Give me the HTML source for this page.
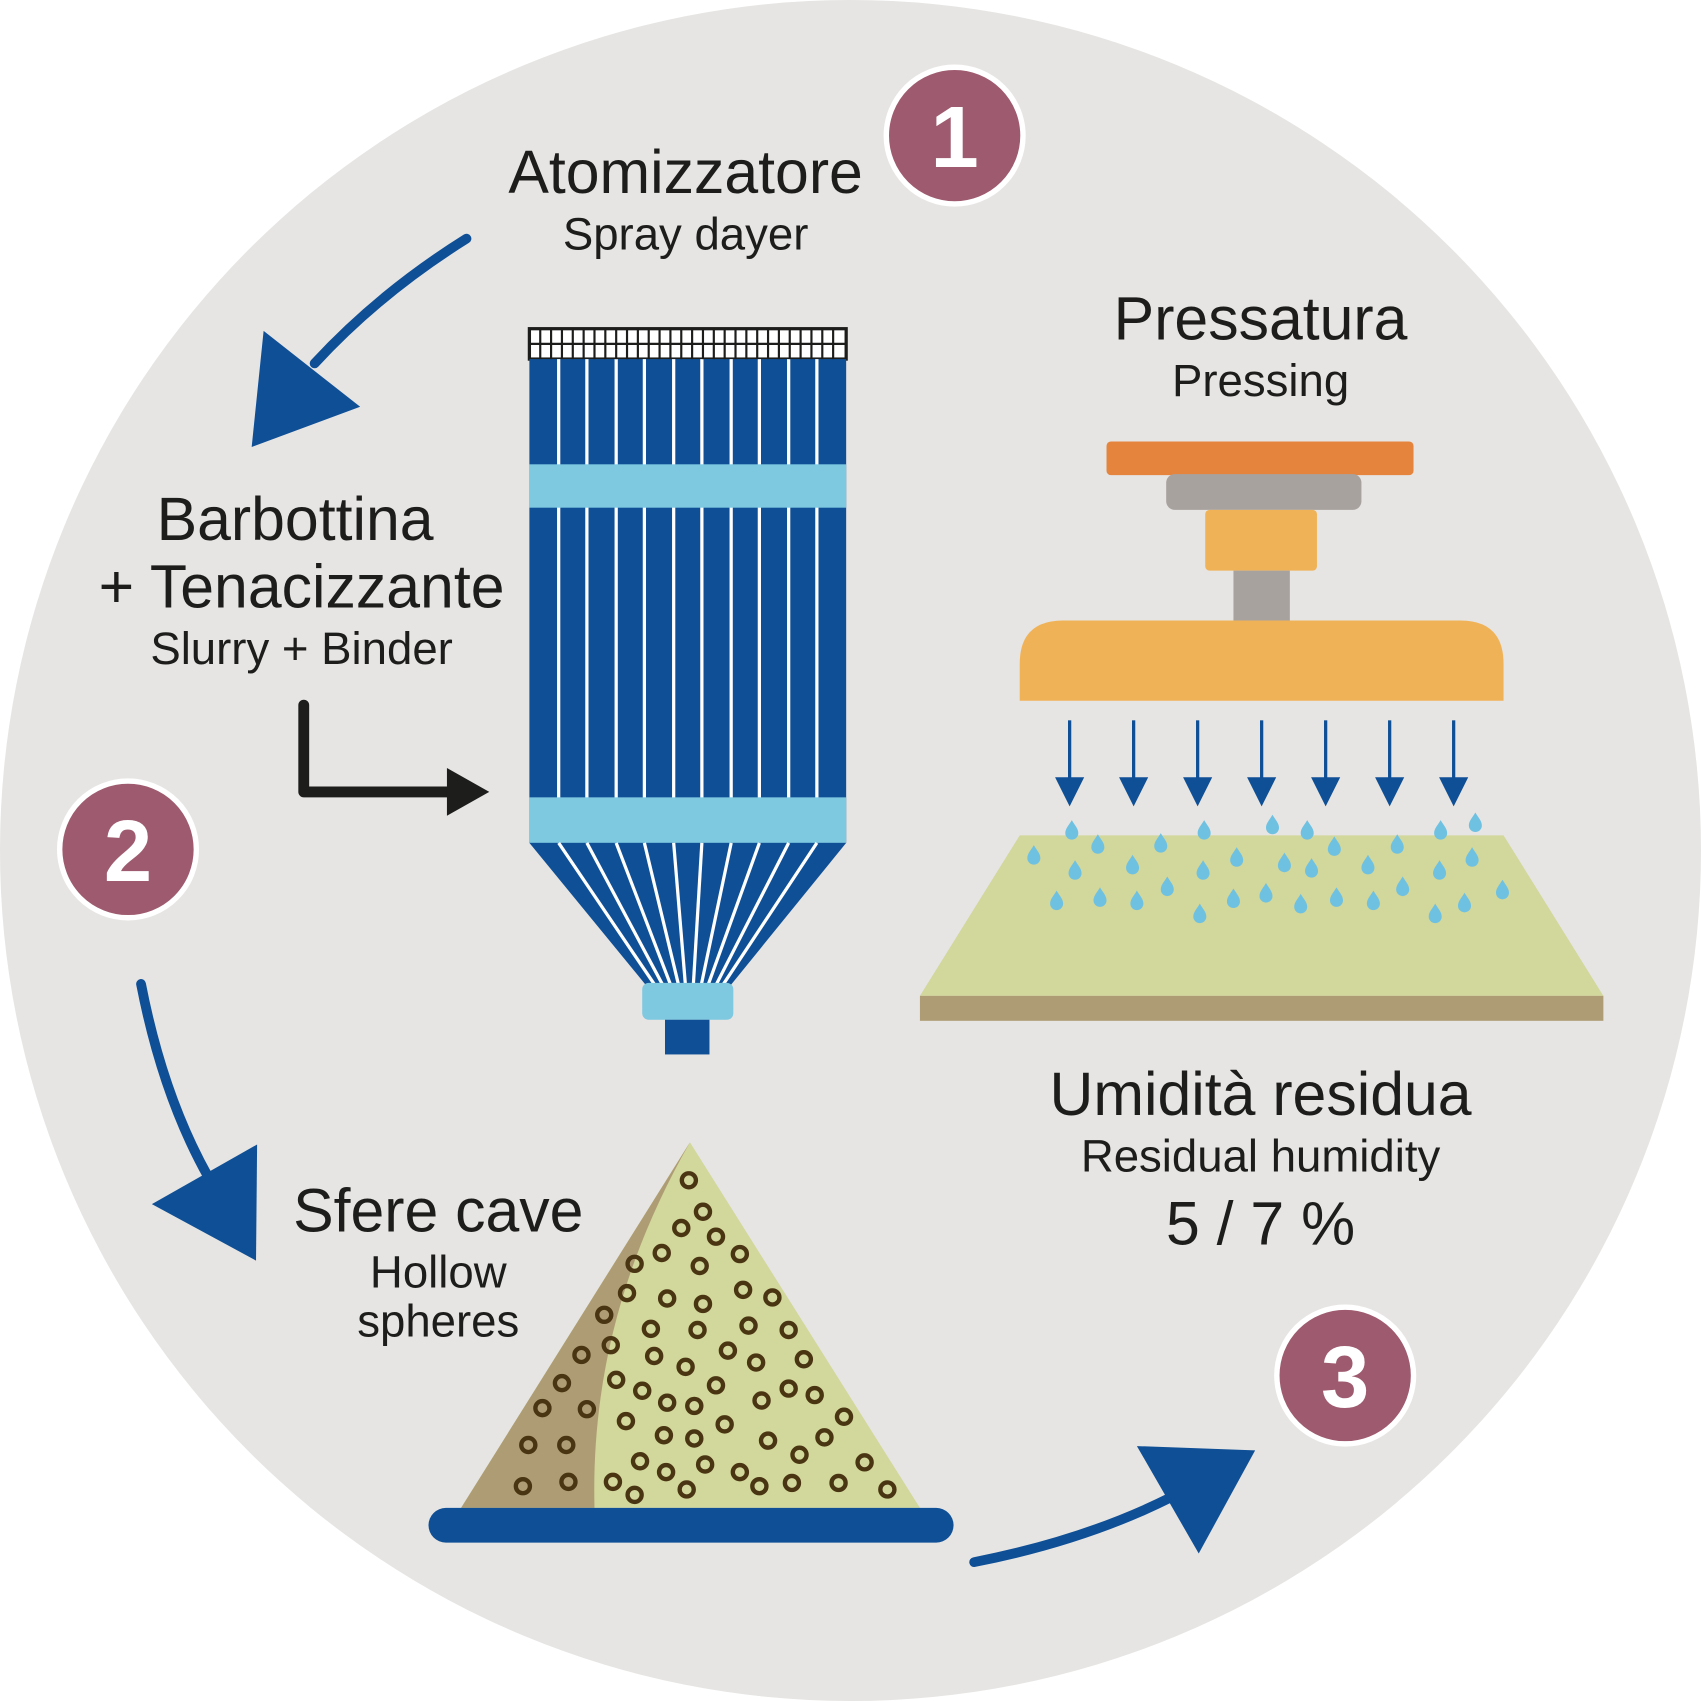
<!DOCTYPE html>
<html><head><meta charset="utf-8"><style>
html,body{margin:0;padding:0;background:#fff}
svg{display:block}
text{font-family:"Liberation Sans",sans-serif;fill:#1d1d1b;text-anchor:middle}
</style></head><body>
<svg width="1701" height="1701" viewBox="0 0 1568 1568" xmlns="http://www.w3.org/2000/svg">
<defs>
<path id="drop" d="M0,-9 C3,-4 6,-1 6,3 A6,6 0 0 1 -6,3 C-6,-1 -3,-4 0,-9Z" fill="#6fc1e2"/>
<circle id="ring" r="6.5" fill="none" stroke="#4a3513" stroke-width="4"/>
</defs>
<circle cx="784" cy="784" r="784" fill="#e6e5e3"/>

<!-- spray dryer -->
<rect x="488" y="303" width="292" height="28" fill="#fff" stroke="#1d1d1b" stroke-width="3"/>
<g stroke="#1d1d1b" stroke-width="2">
<line x1="488" y1="317" x2="780" y2="317"/>
</g>
<g stroke="#1d1d1b" stroke-width="2" id="grid"></g>
<rect x="488" y="331" width="292" height="446" fill="#0f4f96"/>
<g stroke="#fff" stroke-width="3">
<line x1="515" y1="331" x2="515" y2="777"/><line x1="541" y1="331" x2="541" y2="777"/>
<line x1="568" y1="331" x2="568" y2="777"/><line x1="594" y1="331" x2="594" y2="777"/>
<line x1="621" y1="331" x2="621" y2="777"/><line x1="647" y1="331" x2="647" y2="777"/>
<line x1="674" y1="331" x2="674" y2="777"/><line x1="700" y1="331" x2="700" y2="777"/>
<line x1="727" y1="331" x2="727" y2="777"/><line x1="753" y1="331" x2="753" y2="777"/>
</g>
<rect x="488" y="428" width="292" height="40" fill="#7ec8e0"/>
<rect x="488" y="735" width="292" height="42" fill="#7ec8e0"/>
<polygon points="488,777 780,777 672,910 597,910" fill="#0f4f96"/>
<g stroke="#fff" stroke-width="3">
<line x1="515" y1="777" x2="605" y2="910"/><line x1="541" y1="777" x2="612" y2="910"/>
<line x1="568" y1="777" x2="619" y2="910"/><line x1="594" y1="777" x2="626" y2="910"/>
<line x1="621" y1="777" x2="632" y2="910"/><line x1="647" y1="777" x2="639" y2="910"/>
<line x1="674" y1="777" x2="646" y2="910"/><line x1="700" y1="777" x2="652" y2="910"/>
<line x1="727" y1="777" x2="659" y2="910"/><line x1="753" y1="777" x2="665" y2="910"/>
</g>
<rect x="592" y="906" width="84" height="34" rx="6" fill="#7ec8e0"/>
<rect x="613" y="940" width="41" height="32" fill="#0f4f96"/>
<g fill="none" stroke="#1d1d1b" stroke-width="2">
<path d="M498,303V331M508,303V331M518,303V331M528,303V331M538,303V331M548,303V331M558,303V331M568,303V331M578,303V331M588,303V331M598,303V331M608,303V331M618,303V331M628,303V331M638,303V331M648,303V331M658,303V331M668,303V331M678,303V331M688,303V331M698,303V331M708,303V331M718,303V331M728,303V331M738,303V331M748,303V331M758,303V331M768,303V331"/>
</g>

<!-- press -->
<rect x="1020" y="407" width="283" height="31" rx="4" fill="#e5843d"/>
<rect x="1075" y="437" width="180" height="33" rx="8" fill="#a8a29f"/>
<rect x="1111" y="470" width="103" height="56" rx="4" fill="#f0b257"/>
<rect x="1137" y="526" width="52" height="48" fill="#a8a29f"/>
<path d="M940,646 V612 Q940,572 980,572 H1346 Q1386,572 1386,612 V646Z" fill="#f0b257"/>
<g stroke="#0f4f96" stroke-width="3" fill="#0f4f96">
<line x1="986" y1="664" x2="986" y2="722"/><polygon points="975,718 997,718 986,740"/>
<line x1="1045" y1="664" x2="1045" y2="722"/><polygon points="1034,718 1056,718 1045,740"/>
<line x1="1104" y1="664" x2="1104" y2="722"/><polygon points="1093,718 1115,718 1104,740"/>
<line x1="1163" y1="664" x2="1163" y2="722"/><polygon points="1152,718 1174,718 1163,740"/>
<line x1="1222" y1="664" x2="1222" y2="722"/><polygon points="1211,718 1233,718 1222,740"/>
<line x1="1281" y1="664" x2="1281" y2="722"/><polygon points="1270,718 1292,718 1281,740"/>
<line x1="1340" y1="664" x2="1340" y2="722"/><polygon points="1329,718 1351,718 1340,740"/>
</g>
<polygon points="940,770 1386,770 1478,918 848,918" fill="#d2d79b"/>
<rect x="848" y="918" width="630" height="23" fill="#ae9d74"/>
<g>
<use href="#drop" x="988" y="765"/><use href="#drop" x="1110" y="765"/><use href="#drop" x="1173" y="760"/><use href="#drop" x="1205" y="765"/><use href="#drop" x="1328" y="765"/><use href="#drop" x="1360" y="758"/>
<use href="#drop" x="953" y="788"/><use href="#drop" x="1012" y="778"/><use href="#drop" x="1070" y="777"/><use href="#drop" x="1140" y="790"/><use href="#drop" x="1230" y="780"/><use href="#drop" x="1288" y="778"/><use href="#drop" x="1357" y="790"/>
<use href="#drop" x="991" y="802"/><use href="#drop" x="1044" y="797"/><use href="#drop" x="1109" y="802"/><use href="#drop" x="1184" y="795"/><use href="#drop" x="1209" y="800"/><use href="#drop" x="1261" y="797"/><use href="#drop" x="1327" y="802"/>
<use href="#drop" x="974" y="830"/><use href="#drop" x="1014" y="827"/><use href="#drop" x="1048" y="830"/><use href="#drop" x="1076" y="817"/><use href="#drop" x="1137" y="828"/><use href="#drop" x="1167" y="823"/><use href="#drop" x="1199" y="833"/><use href="#drop" x="1232" y="827"/><use href="#drop" x="1266" y="830"/><use href="#drop" x="1293" y="817"/><use href="#drop" x="1350" y="832"/><use href="#drop" x="1385" y="820"/>
<use href="#drop" x="1106" y="842"/><use href="#drop" x="1323" y="842"/>
</g>

<!-- pile -->
<polygon points="636,1053 425,1390 848,1390" fill="#d2d79b"/>
<path d="M636,1053 L425,1390 H548 C545,1270 575,1160 636,1053Z" fill="#ae9d74"/>
<rect x="395" y="1390" width="484" height="32" rx="16" fill="#0f4f96"/>
<g>
<use href="#ring" x="635" y="1088"/><use href="#ring" x="648" y="1117"/><use href="#ring" x="628" y="1132"/><use href="#ring" x="660" y="1140"/><use href="#ring" x="610" y="1155"/><use href="#ring" x="682" y="1156"/><use href="#ring" x="585" y="1165"/><use href="#ring" x="645" y="1167"/>
<use href="#ring" x="578" y="1192"/><use href="#ring" x="615" y="1197"/><use href="#ring" x="648" y="1202"/><use href="#ring" x="685" y="1189"/><use href="#ring" x="712" y="1196"/><use href="#ring" x="557" y="1212"/><use href="#ring" x="600" y="1225"/><use href="#ring" x="643" y="1226"/><use href="#ring" x="690" y="1222"/><use href="#ring" x="727" y="1226"/>
<use href="#ring" x="536" y="1249"/><use href="#ring" x="563" y="1240"/><use href="#ring" x="603" y="1250"/><use href="#ring" x="632" y="1260"/><use href="#ring" x="671" y="1245"/><use href="#ring" x="697" y="1256"/><use href="#ring" x="741" y="1253"/>
<use href="#ring" x="518" y="1275"/><use href="#ring" x="568" y="1272"/><use href="#ring" x="592" y="1282"/><use href="#ring" x="615" y="1293"/><use href="#ring" x="640" y="1296"/><use href="#ring" x="660" y="1277"/><use href="#ring" x="702" y="1291"/><use href="#ring" x="727" y="1280"/><use href="#ring" x="751" y="1286"/>
<use href="#ring" x="500" y="1298"/><use href="#ring" x="541" y="1299"/><use href="#ring" x="577" y="1310"/><use href="#ring" x="668" y="1313"/><use href="#ring" x="612" y="1323"/><use href="#ring" x="640" y="1326"/><use href="#ring" x="708" y="1328"/><use href="#ring" x="760" y="1325"/><use href="#ring" x="778" y="1306"/>
<use href="#ring" x="487" y="1332"/><use href="#ring" x="522" y="1332"/><use href="#ring" x="590" y="1347"/><use href="#ring" x="650" y="1350"/><use href="#ring" x="682" y="1357"/><use href="#ring" x="737" y="1341"/><use href="#ring" x="797" y="1348"/><use href="#ring" x="614" y="1357"/>
<use href="#ring" x="482" y="1370"/><use href="#ring" x="524" y="1366"/><use href="#ring" x="565" y="1366"/><use href="#ring" x="585" y="1378"/><use href="#ring" x="633" y="1373"/><use href="#ring" x="700" y="1370"/><use href="#ring" x="730" y="1367"/><use href="#ring" x="773" y="1367"/><use href="#ring" x="818" y="1373"/>
</g>

<!-- arrows -->
<g fill="none" stroke="#0f4f96" stroke-width="9" stroke-linecap="round">
<path d="M430,220 Q350,270 290,335"/>
<path d="M130,907 Q150,1010 192,1085"/>
<path d="M898,1440 Q1000,1420 1080,1380"/>
</g>
<g fill="#0f4f96">
<polygon points="232,412 243,305 332,375"/>
<polygon points="140,1110 237,1055 236,1162"/>
<polygon points="1105,1432 1157,1337 1048,1333"/>
</g>
<path d="M280,650 V730 H418" fill="none" stroke="#1d1d1b" stroke-width="10" stroke-linecap="round" stroke-linejoin="round"/>
<polygon points="412,708 451,730 412,752" fill="#1d1d1b"/>

<!-- numbers -->
<g fill="#9e5a6e" stroke="#fff" stroke-width="5">
<circle cx="880" cy="125" r="63"/>
<circle cx="118" cy="783" r="63"/>
<circle cx="1240" cy="1268" r="63"/>
</g>
<g style="font-weight:bold;font-size:80px">
<text x="880" y="154" style="fill:#fff">1</text>
<text x="118" y="812" style="fill:#fff">2</text>
<text x="1240" y="1297" style="fill:#fff">3</text>
</g>

<!-- labels -->
<text x="632" y="178" font-size="56">Atomizzatore</text>
<text x="632" y="230" font-size="42">Spray dayer</text>
<text x="1162" y="313" font-size="56">Pressatura</text>
<text x="1162" y="365" font-size="42">Pressing</text>
<text x="272" y="498" font-size="56">Barbottina</text>
<text x="278" y="560" font-size="56">+ Tenacizzante</text>
<text x="278" y="612" font-size="42">Slurry + Binder</text>
<text x="1162" y="1028" font-size="56">Umidità residua</text>
<text x="1162" y="1080" font-size="42">Residual humidity</text>
<text x="1162" y="1147" font-size="56">5 / 7 %</text>
<text x="404" y="1135" font-size="56">Sfere cave</text>
<text x="404" y="1187" font-size="42">Hollow</text>
<text x="404" y="1232" font-size="42">spheres</text>
</svg>
</body></html>
